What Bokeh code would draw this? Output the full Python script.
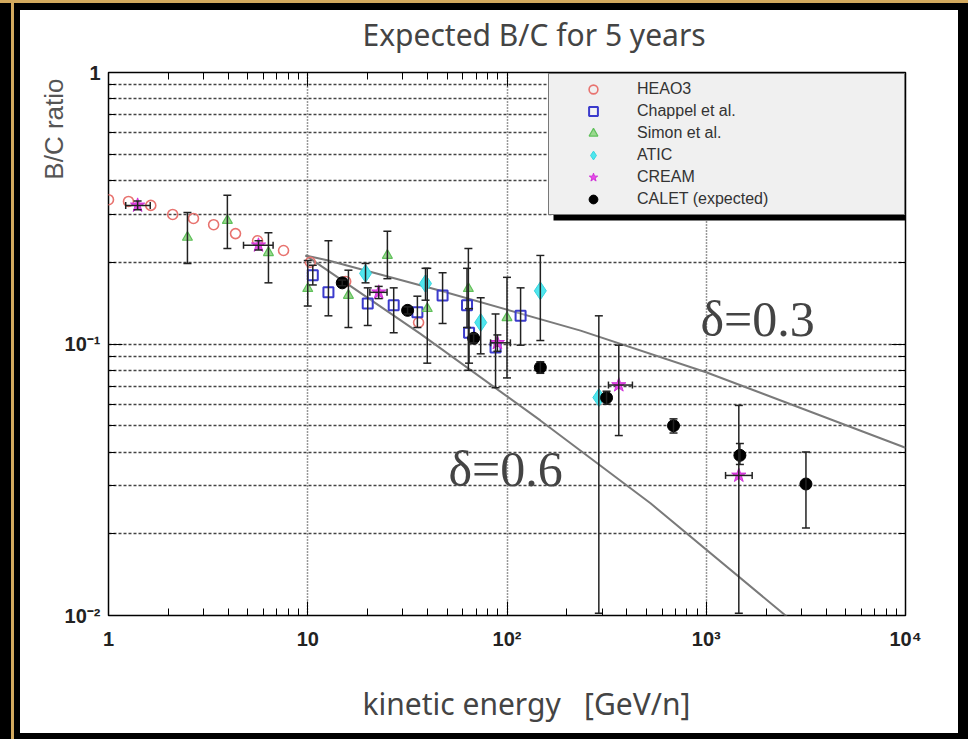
import math
from bokeh.plotting import figure
from bokeh.models import (ColumnDataSource, Whisker, TeeHead, Legend, LegendItem, Label, Title,
                          FixedTicker, LogAxis, Range1d, BoxAnnotation)
from bokeh.layouts import column
from bokeh.embed import file_html
from bokeh.resources import INLINE

# ---------------- data ----------------
heao_e = [1.0, 1.26, 1.63, 2.1, 2.67, 3.37, 4.34, 5.6, 7.56, 10.3, 15.5, 36.0]
heao_r = [0.34, 0.335, 0.324, 0.30, 0.29, 0.275, 0.255, 0.24, 0.221, 0.20, 0.17, 0.12]

chap_e = [10.6, 12.7, 20.0, 27.0, 35.5, 47.5, 63.0, 64.5, 87.6, 117.0]
chap_r = [0.179, 0.155, 0.141, 0.139, 0.131, 0.151, 0.139, 0.110, 0.097, 0.127]
chap_lo = [0.165, 0.127, 0.117, 0.110, 0.115, 0.119, 0.115, 0.085, 0.069, 0.099]
chap_hi = [0.195, 0.240, 0.161, 0.161, 0.150, 0.183, 0.190, 0.135, 0.129, 0.161]

simon_e = [2.49, 3.95, 6.35, 10.0, 16.0, 25.1, 39.8, 64.0, 100.0]
simon_r = [0.247, 0.285, 0.217, 0.160, 0.151, 0.212, 0.135, 0.160, 0.125]
simon_lo = [0.198, 0.225, 0.168, 0.138, 0.115, 0.174, 0.085, 0.080, 0.075]
simon_hi = [0.305, 0.353, 0.257, 0.203, 0.187, 0.260, 0.190, 0.225, 0.176]

atic_e = [19.5, 39.0, 73.8, 147.0, 289.0]
atic_r = [0.182, 0.167, 0.120, 0.157, 0.0635]
atic_lo = [0.168, 0.145, 0.092, 0.103, 0.0102]
atic_hi = [0.198, 0.190, 0.148, 0.212, 0.127]

cream_e = [1.4, 5.66, 22.7, 89.5, 364.0, 1457.0]
cream_r = [0.324, 0.231, 0.155, 0.101, 0.0706, 0.0328]
cream_elo = [1.22, 4.76, 20.5, 82.7, 323.0, 1250.0]
cream_ehi = [1.62, 6.70, 25.0, 104.0, 426.0, 1700.0]
cream_rlo = [0.312, 0.222, 0.147, 0.094, 0.046, 0.0102]
cream_rhi = [0.336, 0.240, 0.163, 0.108, 0.099, 0.0594]

calet_e = [14.9, 31.7, 68.0, 147.0, 316.0, 685.0, 1475.0, 3165.0]
calet_r = [0.168, 0.133, 0.105, 0.082, 0.0634, 0.050, 0.0389, 0.0305]
calet_lo = [0.164, 0.129, 0.101, 0.078, 0.060, 0.047, 0.036, 0.021]
calet_hi = [0.172, 0.137, 0.109, 0.086, 0.067, 0.053, 0.043, 0.040]

d03_e = [9.75, 12.7, 46.4, 234.0, 1006.0, 10000.0]
d03_r = [0.212, 0.203, 0.157, 0.112, 0.0785, 0.0415]
d06_e = [9.75, 36.8, 147.0, 525.0, 2500.0, 3000.0]
d06_r = [0.212, 0.109, 0.0523, 0.0259, 0.0100, 0.0089]

x_major = [1, 10, 100, 1000, 10000]
x_labels = ["1", "10", "10²", "10³", "10⁴"]
y_major = [0.01, 0.1, 1]
y_labels = ["10⁻²", "10⁻¹", "1"]

title_text = "Expected B/C for 5 years"
xlabel_text = "kinetic energy\u00a0\u00a0\u00a0[GeV/n]"
ylabel_text = "B/C ratio"

# ---------------- figure ----------------
X0, X1, Y0, Y1 = 1.0, 1e4, 0.01, 1.0
# frame position in the page (px)
FL, FR, FT, FB = 108, 905, 72, 615
W = 938


def ex(px):
    return 10 ** (math.log10(X0) + (px - FL) / (FR - FL) * (math.log10(X1) - math.log10(X0)))


def ry(py):
    return 10 ** (math.log10(Y1) - (py - FT) / (FB - FT) * (math.log10(Y1) - math.log10(Y0)))


def text_strip(height):
    f = figure(width=W, height=height, x_range=Range1d(0, W), y_range=Range1d(0, height),
               output_backend="svg", toolbar_location=None, min_border=0)
    f.axis.visible = False
    f.grid.visible = False
    f.outline_line_color = None
    f.background_fill_color = "white"
    f.border_fill_color = "white"
    f.frame_align = False
    return f


# title strip (page y 10..55)
tfig = text_strip(45)
tfig.add_layout(Label(x=342, y=21, text=title_text, text_align="left", text_baseline="middle",
                      text_font="Noto Sans", text_font_size="30px", text_color="#444444"))

# main plot (page y 55..672)
p = figure(width=W, height=617, x_axis_type="log", y_axis_type="log",
           x_range=Range1d(X0, X1), y_range=Range1d(Y0, Y1),
           output_backend="svg", toolbar_location=None,
           min_border_left=88, min_border_right=53, min_border_top=17, min_border_bottom=57)
p.frame_align = False
p.background_fill_color = "white"
p.border_fill_color = "white"
p.outline_line_color = "black"
p.outline_line_width = 1.5

x_minor = [m * 10 ** k for k in range(4) for m in range(2, 10)]
y_minor = [m * 10 ** k for k in (-2, -1) for m in range(2, 10)]

tick_font = "Liberation Sans"
for ax, maj, mnr, labs in ((p.xaxis[0], x_major, x_minor, x_labels), (p.yaxis[0], y_major, y_minor, y_labels)):
    ax.ticker = FixedTicker(ticks=maj, minor_ticks=mnr)
    ax.major_label_overrides = {t: l for t, l in zip(maj, labs)}
    ax.axis_line_color = None
    ax.major_tick_in = 14
    ax.major_tick_out = 0
    ax.minor_tick_in = 7
    ax.minor_tick_out = 0
    ax.major_tick_line_color = "black"
    ax.minor_tick_line_color = "black"
    ax.major_label_text_font = tick_font
    ax.major_label_text_font_style = "bold"
    ax.major_label_text_font_size = "20px"
    ax.major_label_text_color = "#222222"
p.xaxis.major_label_standoff = 12
p.yaxis.major_label_standoff = 8

# mirror axes (ticks only)
top_ax = LogAxis(ticker=FixedTicker(ticks=x_major, minor_ticks=x_minor), major_label_text_color=None,
                 major_label_text_font_size="2px", major_label_standoff=0,
                 axis_line_color=None, major_tick_in=14, major_tick_out=0, minor_tick_in=7, minor_tick_out=0)
right_ax = LogAxis(ticker=FixedTicker(ticks=y_major, minor_ticks=y_minor), major_label_text_color=None,
                   major_label_text_font_size="2px", major_label_standoff=0,
                   axis_line_color=None, major_tick_in=14, major_tick_out=0, minor_tick_in=7, minor_tick_out=0)
p.add_layout(top_ax, "above")
p.add_layout(right_ax, "right")

# grids
p.xgrid.ticker = FixedTicker(ticks=[10, 100, 1000])
p.xgrid.grid_line_color = "#333333"
p.xgrid.grid_line_dash = "1 2"
p.xgrid.grid_line_width = 1.5
p.ygrid.ticker = FixedTicker(ticks=y_major, minor_ticks=y_minor)
p.ygrid.grid_line_color = "#444444"
p.ygrid.grid_line_dash = "3 2"
p.ygrid.grid_line_width = 1.6
p.ygrid.minor_grid_line_color = "#444444"
p.ygrid.minor_grid_line_dash = "3 2"
p.ygrid.minor_grid_line_width = 1.6

# model curves
p.line(d03_e, d03_r, line_color="#7a7a7a", line_width=2)
p.line(d06_e, d06_r, line_color="#7a7a7a", line_width=2)

# error bars
ebar = "#222222"


def vbars(xs, lo, hi):
    src = ColumnDataSource(dict(x=xs, lo=lo, hi=hi))
    w = Whisker(source=src, base="x", lower="lo", upper="hi", dimension="height",
                line_color=ebar, line_width=1.5,
                upper_head=TeeHead(size=8, line_color=ebar, line_width=1.5),
                lower_head=TeeHead(size=8, line_color=ebar, line_width=1.5), level="glyph")
    p.add_layout(w)


vbars(chap_e, chap_lo, chap_hi)
vbars(simon_e, simon_lo, simon_hi)
vbars(atic_e, atic_lo, atic_hi)
vbars(cream_e, cream_rlo, cream_rhi)
vbars(calet_e, calet_lo, calet_hi)
hsrc = ColumnDataSource(dict(y=cream_r, lo=cream_elo, hi=cream_ehi))
p.add_layout(Whisker(source=hsrc, base="y", lower="lo", upper="hi", dimension="width",
                     line_color=ebar, line_width=1.5,
                     upper_head=TeeHead(size=7, line_color=ebar, line_width=1.5),
                     lower_head=TeeHead(size=7, line_color=ebar, line_width=1.5), level="glyph"))

# markers
r_heao = p.scatter(heao_e, heao_r, marker="circle", size=10, fill_color=None,
                   line_color="#e8736f", line_width=1.6)
r_chap = p.scatter(chap_e, chap_r, marker="square", size=10, fill_color="white", fill_alpha=0.3,
                   line_color="#3b3bcc", line_width=2)
r_simon = p.scatter(simon_e, simon_r, marker="triangle", size=10, fill_color="#9ad88f",
                    line_color="#5fc05a", line_width=1.2)
r_atic = p.scatter(atic_e, atic_r, marker="diamond", size=18, fill_color="#4fe6ee",
                   line_color="#36d6df", line_width=1)
r_cream = p.scatter(cream_e, cream_r, marker="star", size=15, fill_color="#e84ae8",
                    line_color="#d030d8", line_width=1)
r_calet = p.scatter(calet_e, calet_r, marker="circle", size=12, fill_color="black",
                    line_color="black")

# legend with drop shadow
shadow = BoxAnnotation(left=ex(553), right=ex(908), top=ry(83), bottom=ry(220),
                       fill_color="black", fill_alpha=1, line_color=None, level="underlay")
p.add_layout(shadow)
legend = Legend(items=[
    LegendItem(label="HEAO3", renderers=[r_heao]),
    LegendItem(label="Chappel et al.", renderers=[r_chap]),
    LegendItem(label="Simon et al.", renderers=[r_simon]),
    LegendItem(label="ATIC", renderers=[r_atic]),
    LegendItem(label="CREAM", renderers=[r_cream]),
    LegendItem(label="CALET (expected)", renderers=[r_calet]),
], location=(440, 400))
legend.margin = 0
legend.padding = 4
legend.spacing = 0
legend.glyph_width = 80
legend.glyph_height = 22
legend.label_height = 22
legend.label_width = 263
legend.label_standoff = 4
legend.label_text_font = "Liberation Sans"
legend.label_text_font_size = "16px"
legend.label_text_color = "#333333"
legend.background_fill_color = "#f0f0f0"
legend.background_fill_alpha = 1
legend.border_line_color = "black"
legend.border_line_width = 1
p.add_layout(legend)

txt_color = "#444444"
p.add_layout(Title(text=ylabel_text, align="right", offset=6,
                   text_font="Liberation Sans", text_font_size="26px", text_font_style="normal",
                   text_color="#555555", standoff=-14), "left")
p.add_layout(Label(x=ex(700), y=ry(318), text="δ=0.3", text_align="left", text_baseline="middle",
                   text_font="Liberation Serif", text_font_size="50px", text_color=txt_color))
p.add_layout(Label(x=ex(448), y=ry(468), text="δ=0.6", text_align="left", text_baseline="middle",
                   text_font="Liberation Serif", text_font_size="50px", text_color=txt_color))

# x-label strip (page y 672..733)
bfig = text_strip(61)
bfig.add_layout(Label(x=342, y=30, text=xlabel_text, text_align="left", text_baseline="middle",
                      text_font="Noto Sans", text_font_size="30px", text_color=txt_color))

gold = "#d4aa5e"
inner = column(tfig, p, bfig, spacing=0, styles={"background-color": "white"})
page = column(inner, spacing=0, styles={
    "background": f"linear-gradient(to right, #000 0px, #000 11px, {gold} 11px, {gold} 14px, #000 14px)",
    "border-top": f"3px solid {gold}",
    "padding": "7px 10px 6px 20px",
})

open("out.html", "w").write(file_html(page, INLINE))
